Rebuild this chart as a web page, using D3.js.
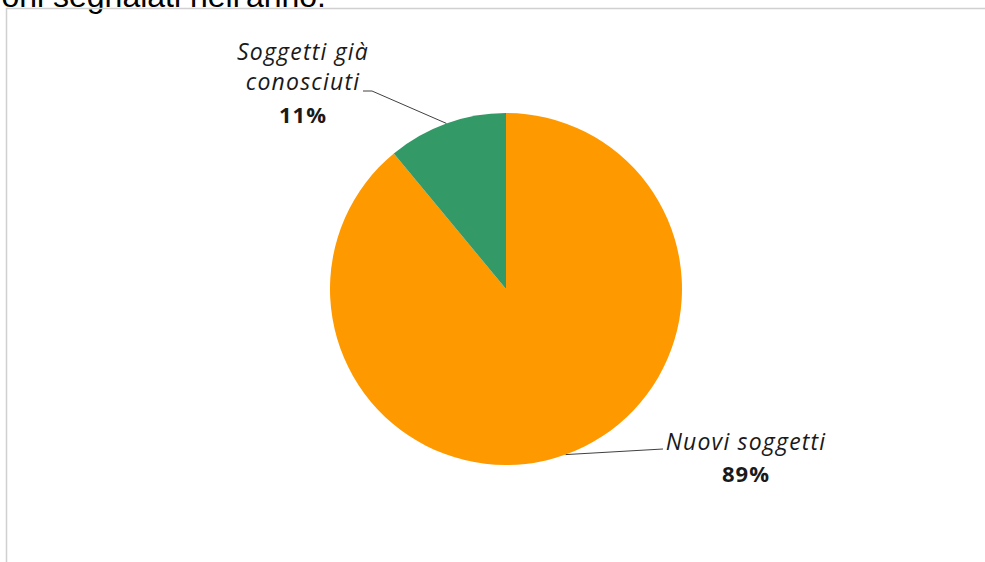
<!DOCTYPE html>
<html><head><meta charset="utf-8">
<script src="https://cdn.jsdelivr.net/npm/d3@7"></script>
<style>
html,body{margin:0;padding:0;background:#fff;overflow:hidden;}
svg{display:block;}
</style></head>
<body>
<svg id="chart" width="985" height="562"></svg>
<script>
const categories = ["Nuovi soggetti", "Soggetti già conosciuti"];
const values = [89, 11];
const percentLabels = ["89%", "11%"];
const colors = ["#ff9900", "#339966"];
const titleText = "ioni segnalati nell'anno.";

const svg = d3.select("#chart");
const W = 985, H = 562;
const cx = 506, cy = 289, R = 176;

// cropped title
svg.append("text").attr("x", 326).attr("y", 6.5)
  .attr("text-anchor", "end")
  .attr("font-family", "Liberation Sans, Arial, sans-serif")
  .attr("font-size", 32).attr("fill", "#000").text(titleText);

// chart border
svg.append("path")
  .attr("d", `M6.5,${H} V8.5 H${W}`)
  .attr("fill", "none").attr("stroke", "#d0d0d0").attr("stroke-width", 1.5);

const pie = d3.pie().sort(null).value(d => d)(values);
const arc = d3.arc().innerRadius(0).outerRadius(R);
const g = svg.append("g").attr("transform", `translate(${cx},${cy})`);
g.selectAll("path.slice").data(pie).join("path")
  .attr("class", "slice")
  .attr("d", arc)
  .attr("fill", (d, i) => colors[i]);

const edge = d3.arc().innerRadius(R).outerRadius(R);
const font = "Open Sans, Noto Sans, sans-serif";

const labelCfg = [
  { lines: ["Nuovi soggetti"], x: 746, y: [450], pctY: 482, lineEnd: [[663, 449]] },
  { lines: ["Soggetti già", "conosciuti"], x: 303, y: [60, 90], pctY: 123, lineEnd: [[372, 91], [363, 91]] }
];

pie.forEach((d, i) => {
  const cfg = labelCfg[i];
  const [px, py] = edge.centroid(d);
  const pts = [[cx + px, cy + py]].concat(cfg.lineEnd);
  svg.append("path")
    .attr("d", d3.line()(pts))
    .attr("fill", "none").attr("stroke", "#404040").attr("stroke-width", 1);
  const t = svg.append("g");
  cfg.lines.forEach((ln, k) => {
    t.append("text").attr("x", cfg.x).attr("y", cfg.y[k])
      .attr("text-anchor", "middle")
      .attr("font-family", font).attr("font-style", "italic")
      .attr("font-size", 23).attr("letter-spacing", 1.2)
      .attr("fill", "#1a1a1a").text(ln);
  });
  t.append("text").attr("x", cfg.x).attr("y", cfg.pctY)
    .attr("text-anchor", "middle")
    .attr("font-family", font).attr("font-weight", "bold")
    .attr("font-size", 22).attr("letter-spacing", 1)
    .attr("fill", "#1a1a1a").text(percentLabels[i]);
});
</script>
</body></html>
